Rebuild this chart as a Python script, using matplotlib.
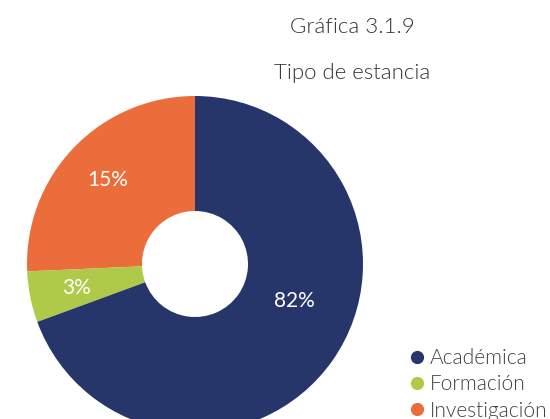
import matplotlib
matplotlib.use("Agg")
import matplotlib.pyplot as plt
from matplotlib.lines import Line2D
import numpy as np

# data (wedge sizes from the drawn angles, labels as printed)
categories = ["Académica", "Formación", "Investigación"]
sizes = [69.4, 4.9, 25.7]
pct_labels = ["82%", "3%", "15%"]
colors = ["#26366B", "#AFCA48", "#EC6D3C"]

title1 = "Gráfica 3.1.9"
title2 = "Tipo de estancia"

plt.rcParams['font.family'] = ['Lato', 'DejaVu Sans']

W, H = 550, 419
fig = plt.figure(figsize=(W / 100, H / 100), dpi=100)
ax = fig.add_axes([0, 0, 1, 1])

# centre of donut in pixels and radius
cx, cy, R = 195, H - 264, 168

# pie drawn counter-clockwise from top: order orange, green, navy
order = [2, 1, 0]
wedges, _ = ax.pie([sizes[i] for i in order], colors=[colors[i] for i in order],
                   startangle=90, counterclock=True, radius=1,
                   wedgeprops=dict(width=1 - 53 / 168, linewidth=0))

# label positions: mid angle and radius fraction, with a tweak for the big slice
label_r = {0: 0.63, 1: 0.72, 2: 0.72}
label_shift = {0: 14.5, 1: 0, 2: 0}
for w, i in zip(wedges, order):
    ang = np.deg2rad((w.theta1 + w.theta2) / 2 + label_shift[i])
    r = label_r[i]
    ax.text(r * np.cos(ang), r * np.sin(ang), pct_labels[i], color="white",
            fontsize=15, ha="center", va="center")

ax.set_xlim(-cx / R, (W - cx) / R)
ax.set_ylim(-cy / R, (H - cy) / R)
ax.set_aspect("equal")
ax.axis("off")

fig.text(352 / W, 1 - 27 / H, title1, ha="center", va="center",
         fontsize=16, color="#333333", fontweight=300)
fig.text(352 / W, 1 - 73 / H, title2, ha="center", va="center",
         fontsize=16, color="#333333", fontweight=300)

handles = [Line2D([], [], marker="o", linestyle="", markersize=8.5,
                  markerfacecolor=c, markeredgecolor=c) for c in colors]
fig.legend(handles, categories, loc="lower left", bbox_to_anchor=(394 / W, -12 / H),
           frameon=False, prop=dict(size=15, weight=300), handletextpad=0.0,
           labelspacing=0.3, handlelength=1.2, borderpad=0, labelcolor="#404040")

fig.savefig("out.png", dpi=100)
